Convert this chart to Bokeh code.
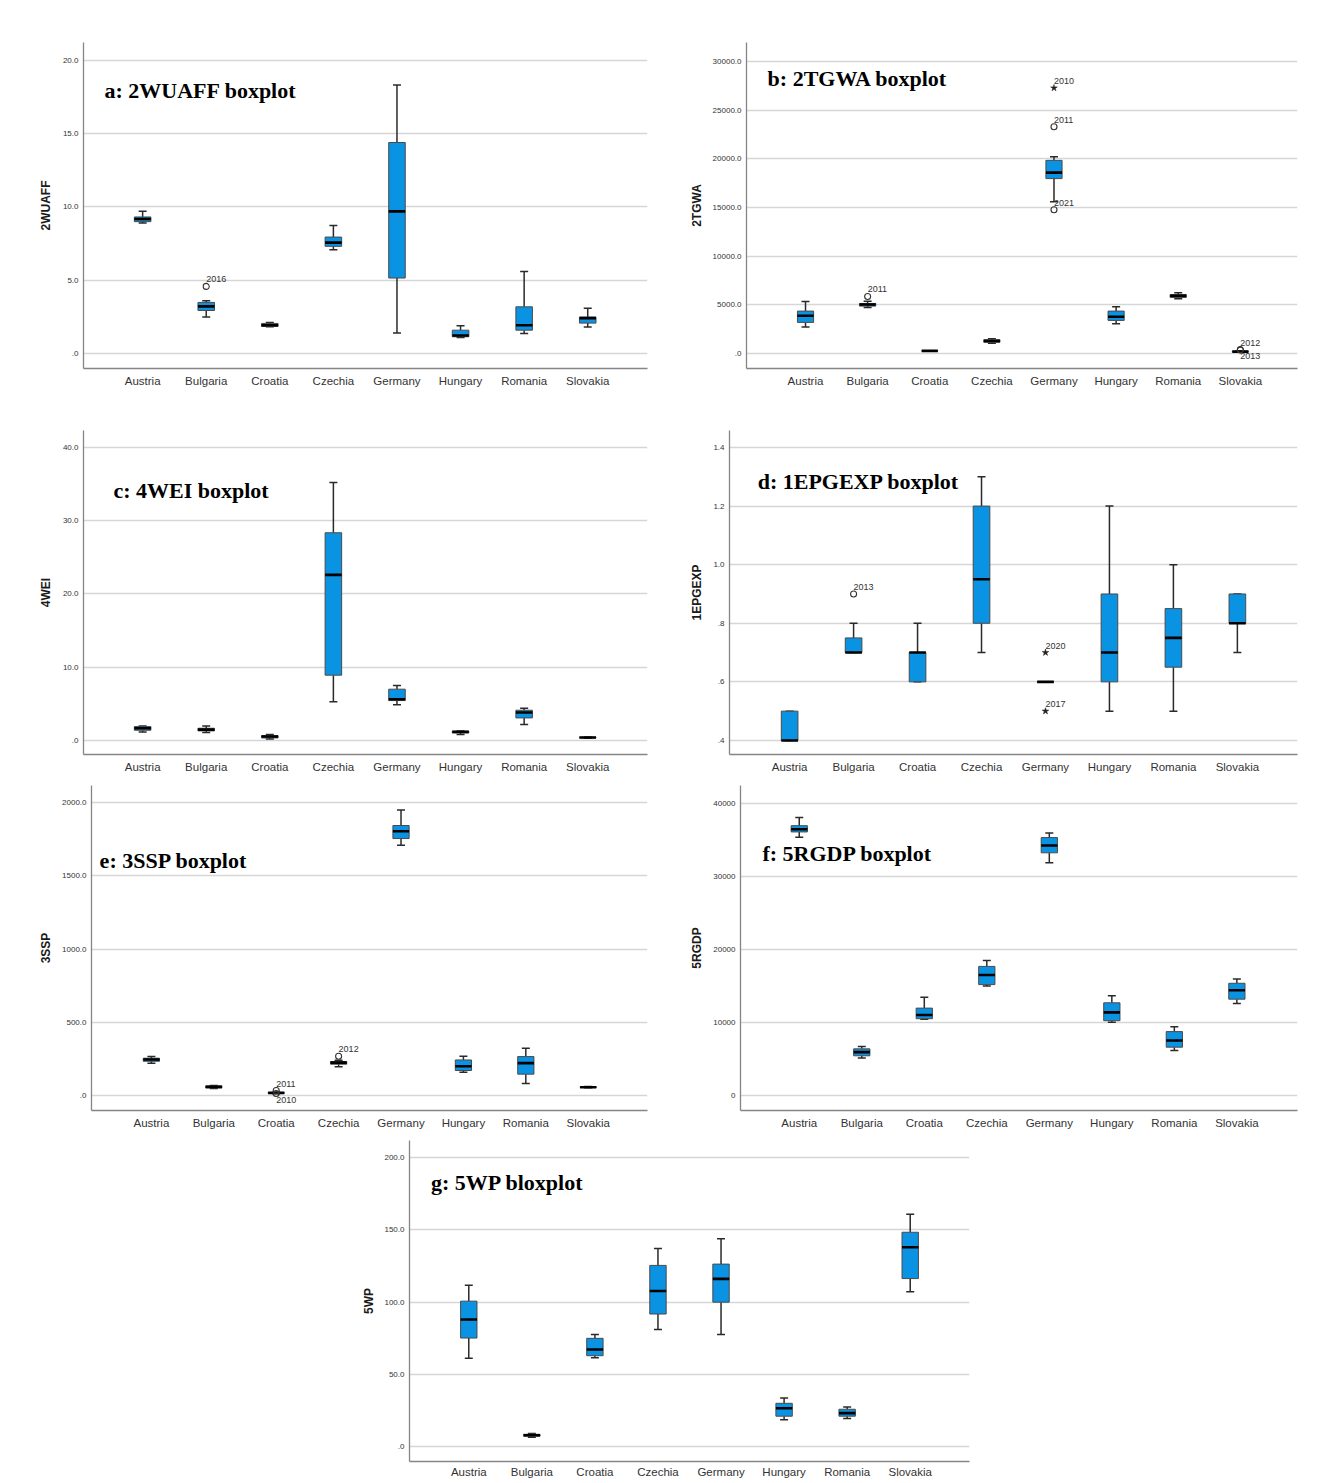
from bokeh.plotting import figure
from bokeh.models import Range1d, FixedTicker, ColumnDataSource, Label, Spacer
from bokeh.layouts import row, column
from bokeh.embed import file_html
from bokeh.resources import INLINE
from bokeh.core.properties import value

countries = ["Austria", "Bulgaria", "Croatia", "Czechia", "Germany", "Hungary", "Romania", "Slovakia"]

# ---- a: 2WUAFF ----
a_lo = [8.90, 2.50, 1.84, 7.09, 1.41, 1.11, 1.39, 1.82]
a_q1 = [9.00, 2.95, 1.86, 7.32, 5.16, 1.16, 1.61, 2.09]
a_med = [9.18, 3.23, 1.95, 7.57, 9.70, 1.25, 1.95, 2.43]
a_q3 = [9.32, 3.50, 2.07, 7.95, 14.39, 1.61, 3.20, 2.50]
a_hi = [9.70, 3.61, 2.14, 8.73, 18.30, 1.91, 5.61, 3.11]
a_out_country = ["Bulgaria"]
a_out_value = [4.59]
a_out_label = ["2016"]
a_out_marker = ["circle"]
a_out_side = ["above"]
a_ticks = [0, 5, 10, 15, 20]
a_tick_labels = [".0", "5.0", "10.0", "15.0", "20.0"]

# ---- b: 2TGWA ----
b_lo = [2727, 4739, 255, 1057, 15580, 3068, 5625, 170]
b_q1 = [3205, 4875, 265, 1159, 17966, 3409, 5761, 180]
b_med = [3886, 5045, 275, 1295, 18580, 3784, 5932, 205]
b_q3 = [4364, 5148, 285, 1432, 19841, 4364, 6068, 250]
b_hi = [5352, 5386, 295, 1534, 20216, 4807, 6239, 260]
b_out_country = ["Bulgaria", "Germany", "Germany", "Germany", "Slovakia", "Slovakia"]
b_out_value = [5864, 27272, 23284, 14761, 409, 360]
b_out_label = ["2011", "2010", "2011", "2021", "2012", "2013"]
b_out_marker = ["circle", "star", "circle", "circle", "circle", "circle"]
b_out_side = ["above", "above", "above", "above", "above", "below"]
b_ticks = [0, 5000, 10000, 15000, 20000, 25000, 30000]
b_tick_labels = [".0", "5000.0", "10000.0", "15000.0", "20000.0", "25000.0", "30000.0"]

# ---- c: 4WEI ----
c_lo = [1.18, 1.09, 0.23, 5.28, 4.87, 0.82, 2.18, 0.33]
c_q1 = [1.41, 1.32, 0.36, 8.92, 5.46, 1.05, 3.09, 0.36]
c_med = [1.68, 1.50, 0.55, 22.60, 5.64, 1.18, 3.82, 0.41]
c_q3 = [1.91, 1.68, 0.68, 28.35, 7.01, 1.27, 4.14, 0.46]
c_hi = [2.00, 2.00, 0.82, 35.20, 7.51, 1.32, 4.41, 0.50]
c_ticks = [0, 10, 20, 30, 40]
c_tick_labels = [".0", "10.0", "20.0", "30.0", "40.0"]

# ---- d: 1EPGEXP ----
d_lo = [0.40, 0.70, 0.60, 0.70, 0.60, 0.50, 0.50, 0.70]
d_q1 = [0.40, 0.70, 0.60, 0.80, 0.60, 0.60, 0.65, 0.80]
d_med = [0.40, 0.70, 0.70, 0.95, 0.60, 0.70, 0.75, 0.80]
d_q3 = [0.50, 0.75, 0.70, 1.20, 0.60, 0.90, 0.85, 0.90]
d_hi = [0.50, 0.80, 0.80, 1.30, 0.60, 1.20, 1.00, 0.90]
d_out_country = ["Bulgaria", "Germany", "Germany"]
d_out_value = [0.90, 0.70, 0.50]
d_out_label = ["2013", "2020", "2017"]
d_out_marker = ["circle", "star", "star"]
d_out_side = ["above", "above", "above"]
d_ticks = [0.4, 0.6, 0.8, 1.0, 1.2, 1.4]
d_tick_labels = [".4", ".6", ".8", "1.0", "1.2", "1.4"]

# ---- e: 3SSP ----
e_lo = [221, 48, 13, 196, 1709, 159, 82, 54]
e_q1 = [234, 52, 15, 214, 1754, 171, 146, 55]
e_med = [246, 59, 18, 225, 1804, 200, 221, 57]
e_q3 = [255, 66, 21, 232, 1843, 243, 266, 60]
e_hi = [266, 68, 22, 241, 1948, 268, 323, 61]
e_out_country = ["Croatia", "Croatia", "Czechia"]
e_out_value = [34, 14, 268]
e_out_label = ["2011", "2010", "2012"]
e_out_marker = ["circle", "circle", "circle"]
e_out_side = ["above", "below", "above"]
e_ticks = [0, 500, 1000, 1500, 2000]
e_tick_labels = [".0", "500.0", "1000.0", "1500.0", "2000.0"]

# ---- f: 5RGDP ----
f_lo = [35373, 5125, 10430, 15011, 31881, 10022, 6168, 12607]
f_q1 = [36099, 5442, 10521, 15192, 33242, 10249, 6621, 13197]
f_med = [36461, 5941, 11020, 16507, 34239, 11383, 7528, 14421]
f_q3 = [36960, 6394, 11972, 17686, 35328, 12698, 8753, 15374]
f_hi = [38094, 6712, 13469, 18503, 35962, 13650, 9433, 15963]
f_ticks = [0, 10000, 20000, 30000, 40000]
f_tick_labels = ["0", "10000", "20000", "30000", "40000"]

# ---- g: 5WP ----
g_lo = [61.1, 6.6, 61.5, 81.0, 77.6, 18.6, 19.5, 107.1]
g_q1 = [75.1, 7.3, 62.9, 91.7, 99.9, 21.1, 21.1, 116.2]
g_med = [87.9, 7.9, 67.2, 107.6, 116.0, 26.6, 23.2, 137.8]
g_q3 = [100.6, 8.6, 74.9, 125.3, 126.2, 30.0, 25.9, 148.2]
g_hi = [111.5, 9.1, 77.6, 136.9, 143.7, 33.6, 27.5, 160.7]
g_ticks = [0, 50, 100, 150, 200]
g_tick_labels = [".0", "50.0", "100.0", "150.0", "200.0"]

BOX_FILL = "#0A93E2"
BOX_LINE = "#4a4a4a"
WHISK = "#2a2a2a"
GRID = "#d6d6d6"
AXIS = "#858585"
SANS = "Liberation Sans"
SERIF = "Liberation Serif"


def make_panel(title, ylabel, lo, q1, med, q3, hi, ticks, tick_labels,
               xr, yr, w, h, borders, label_standoff, title_xy,
               out_country=(), out_value=(), out_label=(), out_marker=(), out_side=()):
    bl, br, bt, bb = borders
    p = figure(width=w, height=h, x_range=Range1d(*xr), y_range=Range1d(*yr),
               output_backend="svg", toolbar_location=None,
               min_border_left=bl, min_border_right=br,
               min_border_top=bt, min_border_bottom=bb)
    p.outline_line_color = None
    p.background_fill_color = "white"
    p.border_fill_color = "white"
    p.xgrid.visible = False
    p.ygrid.grid_line_color = GRID
    p.ygrid.grid_line_width = 1.6
    p.ygrid.ticker = FixedTicker(ticks=ticks)

    p.yaxis.ticker = FixedTicker(ticks=ticks)
    p.yaxis.major_label_overrides = {t: l for t, l in zip(ticks, tick_labels)}
    p.xaxis.ticker = FixedTicker(ticks=list(range(len(countries))))
    p.xaxis.major_label_overrides = {i: c for i, c in enumerate(countries)}
    for ax in (p.xaxis, p.yaxis):
        ax.axis_line_color = AXIS
        ax.axis_line_width = 1.3
        ax.major_tick_line_color = None
        ax.minor_tick_line_color = None
        ax.major_tick_out = 0
        ax.major_tick_in = 0
        ax.minor_tick_out = 0
        ax.minor_tick_in = 0
    p.xaxis.major_label_text_font = SANS
    p.xaxis.major_label_text_font_size = "11.5px"
    p.xaxis.major_label_text_color = "#333333"
    p.xaxis.major_label_standoff = 6
    p.yaxis.major_label_text_font = SANS
    p.yaxis.major_label_text_font_size = "8px"
    p.yaxis.major_label_text_color = "#333333"
    p.yaxis.major_label_standoff = 5
    p.yaxis.axis_label = ylabel
    p.yaxis.axis_label_text_font = SANS
    p.yaxis.axis_label_text_font_style = "bold"
    p.yaxis.axis_label_text_font_size = "12px"
    p.yaxis.axis_label_text_color = "#1a1a1a"
    p.yaxis.axis_label_standoff = label_standoff

    src = ColumnDataSource(dict(x=list(range(len(countries))), lo=lo, q1=q1, med=med, q3=q3, hi=hi))
    p.segment(x0="x", y0="q3", x1="x", y1="hi", source=src, line_color=WHISK, line_width=1.5)
    p.segment(x0="x", y0="q1", x1="x", y1="lo", source=src, line_color=WHISK, line_width=1.5)
    p.scatter(x="x", y="hi", source=src, marker="dash", size=8, line_color=WHISK, line_width=1.5)
    p.scatter(x="x", y="lo", source=src, marker="dash", size=8, line_color=WHISK, line_width=1.5)
    p.vbar(x="x", width=0.26, bottom="q1", top="q3", source=src,
           fill_color=BOX_FILL, line_color=BOX_LINE, line_width=1)
    p.vbar(x="x", width=0.26, bottom="med", top="med", source=src,
           fill_color=None, line_color="black", line_width=2.6)

    if len(out_value):
        ox = [countries.index(c) for c in out_country]
        for mk in ("circle", "star"):
            idx = [i for i, m in enumerate(out_marker) if m == mk]
            if not idx:
                continue
            s = ColumnDataSource(dict(x=[ox[i] for i in idx], y=[out_value[i] for i in idx]))
            if mk == "circle":
                p.scatter(x="x", y="y", source=s, marker="circle", size=6,
                          fill_color=None, line_color="#333333", line_width=1.1)
            else:
                p.scatter(x="x", y="y", source=s, marker="star", size=7,
                          fill_color="#222222", line_color="#222222", line_width=0.5)
        for side, base, yoff in (("above", "bottom", -4), ("below", "top", 3)):
            idx = [i for i, sd in enumerate(out_side) if sd == side]
            if not idx:
                continue
            s = ColumnDataSource(dict(x=[ox[i] for i in idx], y=[out_value[i] for i in idx],
                                      t=[out_label[i] for i in idx]))
            p.text(x="x", y="y", text="t", source=s, x_offset=0, y_offset=yoff,
                   text_font=value(SANS), text_font_size=value("9px"),
                   text_color="#333333", text_align="left", text_baseline=base)

    p.add_layout(Label(x=title_xy[0], y=title_xy[1], text=title, text_font=SERIF,
                       text_font_size="22px", text_font_style="bold", text_color="black",
                       text_align="left", text_baseline="middle"))
    return p


pa = make_panel("a: 2WUAFF boxplot", "2WUAFF", a_lo, a_q1, a_med, a_q3, a_hi, a_ticks, a_tick_labels,
                (-0.93, 7.94), (-1.0, 21.2), 657, 402, (75, 18, 34, 42), 7, (-0.60, 17.94),
                a_out_country, a_out_value, a_out_label, a_out_marker, a_out_side)
pb = make_panel("b: 2TGWA boxplot", "2TGWA", b_lo, b_q1, b_med, b_q3, b_hi, b_ticks, b_tick_labels,
                (-0.95, 7.92), (-1530, 31940), 649, 402, (81, 17, 34, 41), 6, (-0.61, 28221),
                b_out_country, b_out_value, b_out_label, b_out_marker, b_out_side)
pc = make_panel("c: 4WEI boxplot", "4WEI", c_lo, c_q1, c_med, c_q3, c_hi, c_ticks, c_tick_labels,
                (-0.93, 7.94), (-1.9, 42.3), 657, 365, (75, 18, 20, 21), 7, (-0.46, 34.1))
pd_ = make_panel("d: 1EPGEXP boxplot", "1EPGEXP", d_lo, d_q1, d_med, d_q3, d_hi, d_ticks, d_tick_labels,
                 (-0.94, 7.94), (0.352, 1.458), 649, 365, (64, 17, 20, 20), 6, (-0.50, 1.284),
                 d_out_country, d_out_value, d_out_label, d_out_marker, d_out_side)
pe = make_panel("e: 3SSP boxplot", "3SSP", e_lo, e_q1, e_med, e_q3, e_hi, e_ticks, e_tick_labels,
                (-0.96, 7.95), (-102, 2116), 657, 360, (83, 18, 10, 25), 6, (-0.83, 1604),
                e_out_country, e_out_value, e_out_label, e_out_marker, e_out_side)
pf = make_panel("f: 5RGDP boxplot", "5RGDP", f_lo, f_q1, f_med, f_q3, f_hi, f_ticks, f_tick_labels,
                (-0.94, 7.97), (-2050, 42460), 649, 360, (75, 17, 10, 24), 6, (-0.59, 33174))
pg = make_panel("g: 5WP bloxplot", "5WP", g_lo, g_q1, g_med, g_q3, g_hi, g_ticks, g_tick_labels,
                (-0.94, 7.94), (-10.2, 211.6), 649, 345, (69, 20, 5, 15), 5, (-0.60, 182.9))
pg.xaxis.major_label_standoff = 4

grid = column(
    row(pa, pb),
    row(pc, pd_),
    row(pe, pf),
    row(Spacer(width=332, height=345), pg),
)
layout = column(Spacer(width=1314, height=8), row(Spacer(width=8, height=1472), grid))

open("out.html", "w").write(file_html(layout, INLINE))
